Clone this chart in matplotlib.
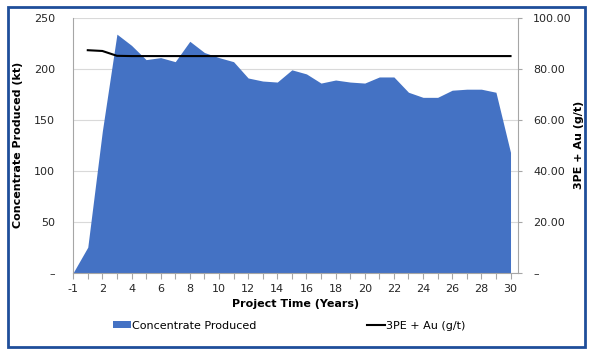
import matplotlib
matplotlib.use('Agg')
import matplotlib.pyplot as plt
from matplotlib.patches import Patch, Rectangle
from matplotlib.lines import Line2D
import numpy as np

plt.rcParams.update({'font.family': 'DejaVu Sans', 'font.size': 8})

# project years (categorical axis)
years = ['-1'] + [str(y) for y in range(1, 31)]

# concentrate produced, kt
concentrate = [0, 25, 139, 234, 223, 209, 211, 207, 227, 216, 211, 207,
               191, 188, 187, 199, 195, 186, 189, 187, 186, 192, 192,
               177, 172, 172, 179, 180, 180, 177, 118]

# 3PE + Au grade, g/t (no value for year -1)
grade = [np.nan, 87.3, 87.0, 85.1] + [85.0] * 27

left_ticks = [0, 50, 100, 150, 200, 250]
left_labels = ['–', '50', '100', '150', '200', '250']
right_ticks = [0, 20, 40, 60, 80, 100]
right_labels = ['–', '20.00', '40.00', '60.00', '80.00', '100.00']

area_col = '#4472C4'
grid_col = '#D9D9D9'
axis_col = '#A6A6A6'

fig = plt.figure(figsize=(6, 3.5), dpi=100)
ax = fig.add_axes([0.122, 0.221, 0.741, 0.728])
x = np.arange(len(years))

ax.fill_between(x, concentrate, 0, color=area_col, lw=0, zorder=2)
ax.set_xlim(0, len(years) - 0.5)
ax.set_ylim(0, 250)
ax.set_yticks(left_ticks)
ax.set_yticklabels(left_labels)
ax.yaxis.grid(True, color=grid_col, lw=0.8, zorder=0)
ax.set_axisbelow(True)
ax.tick_params(axis='y', length=0, pad=13, colors='#262626')
ax.set_xticks(x)
ax.set_xticklabels([y if i % 2 == 0 else '' for i, y in enumerate(years)])
ax.tick_params(axis='x', length=4, colors=axis_col, labelcolor='#262626', pad=4)
for s in ['top', 'right']:
    ax.spines[s].set_visible(False)
for s in ['left', 'bottom']:
    ax.spines[s].set_color(axis_col)
    ax.spines[s].set_linewidth(0.8)
ax.set_xlabel('Project Time (Years)', fontweight='bold', labelpad=4)
ax.set_ylabel('Concentrate Produced (kt)', fontweight='bold', labelpad=8)

ax2 = ax.twinx()
ax2.plot(x, grade, color='black', lw=1.5, zorder=3)
ax2.set_ylim(0, 100)
ax2.set_yticks(right_ticks)
ax2.set_yticklabels(right_labels)
ax2.tick_params(axis='y', length=3, color=axis_col, labelcolor='#262626', pad=8)
for s in ['top', 'left', 'bottom']:
    ax2.spines[s].set_visible(False)
ax2.spines['right'].set_color(axis_col)
ax2.spines['right'].set_linewidth(0.8)
ax2.set_ylabel('3PE + Au (g/t)', fontweight='bold', rotation=90, labelpad=2)

handles = [Patch(facecolor=area_col, edgecolor='none'),
           Line2D([], [], color='black', lw=1.5)]
fig.legend(handles, ['Concentrate Produced', '3PE + Au (g/t)'],
           loc='center', bbox_to_anchor=(0.482, 0.069), ncol=2, frameon=False,
           handlelength=1.6, handleheight=0.6, handletextpad=0.1,
           columnspacing=10)

fig.patches.append(Rectangle((0.013, 0.01), 0.962, 0.97, transform=fig.transFigure,
                             fill=False, edgecolor='#1F4E9A', lw=2))

fig.savefig('out.png', dpi=100)
